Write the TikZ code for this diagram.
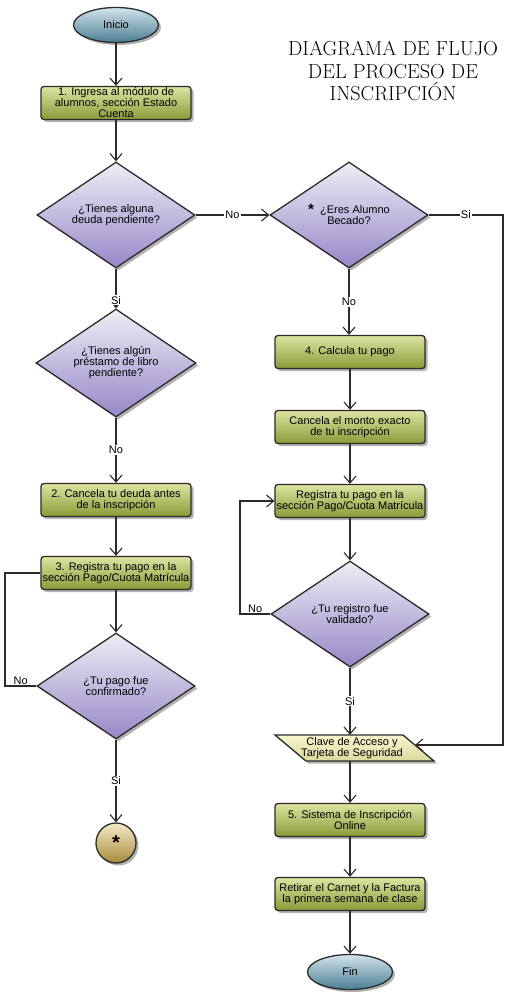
\documentclass[tikz,border=0pt]{standalone}
\usepackage{fontspec}
\setsansfont{Liberation Sans}
\usetikzlibrary{shapes.geometric,arrows.meta,shadows}
\definecolor{linec}{HTML}{2B2B2B}
\definecolor{gtop}{HTML}{DDE4A2}
\definecolor{gmid}{HTML}{B0C05A}
\definecolor{gbot}{HTML}{8A9B38}
\definecolor{dtop}{HTML}{EFEDF5}
\definecolor{dbot}{HTML}{9787C8}
\definecolor{etop}{HTML}{D3E4EB}
\definecolor{ebot}{HTML}{4A7E93}
\definecolor{ctop}{HTML}{F4EBC6}
\definecolor{cbot}{HTML}{A8893A}
\definecolor{ptop}{HTML}{F7F5CF}
\definecolor{pbot}{HTML}{DCDA9C}
\newcommand\bxf{\sffamily\fontsize{11}{11}\selectfont}
\begin{document}
\begin{tikzpicture}[x=1pt,y=-1pt,
  ln/.style={draw=linec, line width=1.3pt},
  arr/.style={ln, -{Straight Barb[length=7pt,width=12pt,line width=1.1pt]}},
  shad/.style={drop shadow={shadow xshift=2.5pt, shadow yshift=-2.5pt, opacity=0.3, fill=black}},
  procbox/.style={rectangle, rounded corners=3pt, draw=linec, line width=1.3pt,
    minimum width=150pt, minimum height=33pt, inner sep=0pt, align=center, font=\bxf,
    top color=gtop, middle color=gmid, bottom color=gbot, shad},
  decision/.style={diamond, aspect=1.5, draw=linec, line width=1.3pt,
    minimum width=158pt, minimum height=106pt, inner sep=0pt, align=center, font=\bxf,
    top color=dtop, bottom color=dbot, shad},
  terminal/.style={ellipse, draw=linec, line width=1.3pt, minimum width=85pt,
    minimum height=35pt, inner sep=0pt, font=\bxf, top color=etop, bottom color=ebot, shad},
  joinc/.style={circle, draw=linec, line width=1.3pt, minimum size=40pt, inner sep=0pt,
    font=\sffamily\bfseries\fontsize{20}{20}\selectfont, top color=ctop, bottom color=cbot, shad},
  paral/.style={draw=linec, line width=1.3pt, top color=ptop, bottom color=pbot, shad},
  textonly/.style={rectangle, minimum width=128pt, minimum height=26pt, inner sep=0pt,
    align=center, font=\bxf},
  lbl/.style={fill=white, inner sep=1pt, font=\bxf},
  lbla/.style={inner sep=1pt, font=\bxf, above}
]
\useasboundingbox (0,0) rectangle (525,1001);
\fill[white] (0,0) rectangle (525,1001);

\node[font=\fontsize{20.3}{22.3}\selectfont, align=center] (title) at (393,71)
  {DIAGRAMA DE FLUJO\\DEL PROCESO DE\\INSCRIPCIÓN};

\node[terminal] (inicio) at (116,25) {Inicio};
\node[procbox] (b1) at (116,103) {1. Ingresa al módulo de\\alumnos, sección Estado\\Cuenta};
\node[decision] (d1) at (116,215) {¿Tienes alguna\\deuda pendiente?};
\node[decision] (d2) at (349,215) {\smash{\raisebox{-1pt}{\bfseries\fontsize{15}{11}\selectfont *}}\ \ ¿Eres Alumno\\Becado?};
\node[decision, minimum width=160pt, minimum height=108pt] (d3) at (116,363) {¿Tienes algún\\préstamo de libro\\pendiente?};
\node[procbox] (b2) at (116,500) {2. Cancela tu deuda antes\\de la inscripción};
\node[procbox] (b3) at (116,573) {3. Registra tu pago en la\\sección Pago/Cuota Matrícula};
\node[decision] (d4) at (116,686) {¿Tu pago fue\\confirmado?};
\node[joinc] (star) at (116,843) {\raisebox{-6pt}{*}};

\node[procbox] (b4) at (350,352) {4. Calcula tu pago};
\node[procbox] (b5) at (350,427) {Cancela el monto exacto\\de tu inscripción};
\node[procbox] (b6) at (350,501) {Registra tu pago en la\\sección Pago/Cuota Matrícula};
\node[decision] (d5) at (350,614) {¿Tu registro fue\\validado?};
\path[paral] (275,735) -- (403,735) -- (434,761) -- (306,761) -- cycle;
\node[textonly] (clave) at (352,748) {Clave de Acceso y\\Tarjeta de Seguridad};
\coordinate (claveR) at (415,745);
\node[procbox] (b7) at (350,820) {5. Sistema de Inscripción\\Online};
\node[procbox] (b8) at (350,894) {Retirar el Carnet y la Factura\\la primera semana de clase};
\node[terminal] (fin) at (350,972) {Fin};

\coordinate (lcol) at (5,0);
\coordinate (mcol) at (240,0);
\coordinate (rcol) at (503,0);

\draw[arr] (inicio) -- (b1);
\draw[arr] (b1) -- (d1);
\draw[arr] (d1.east) -- node[lbl]{No} (d2.west);
\draw[arr] (d1.south) -- node[lbl,pos=0.8]{Si} (d3.north);
\draw[arr] (d3.south) -- node[lbl]{No} (b2.north);
\draw[arr] (b2) -- (b3);
\draw[arr] (b3) -- (d4);
\draw[ln] (d4.west) -- node[lbla]{No} (d4.west -| lcol) |- (b3.west);
\draw[arr] (d4.south) -- node[lbl]{Si} (star.north);

\draw[arr] (d2.south) -- node[lbl]{No} (d2.south |- b4.north);
\draw[arr] (b4) -- (b5);
\draw[arr] (b5) -- (b6);
\draw[arr] (b6) -- (d5);
\draw[arr] (d5.west) -- node[lbla]{No} (d5.west -| mcol) |- (b6.west);
\draw[arr] (d5.south) -- node[lbl]{Si} (d5.south |- clave.north);
\draw[arr] (d2.east) -- node[lbl]{Si} (d2.east -| rcol) |- (claveR);
\draw[arr] (b7.north |- clave.south) -- (b7.north);
\draw[arr] (b7) -- (b8);
\draw[arr] (b8) -- (fin);
\end{tikzpicture}
\end{document}
